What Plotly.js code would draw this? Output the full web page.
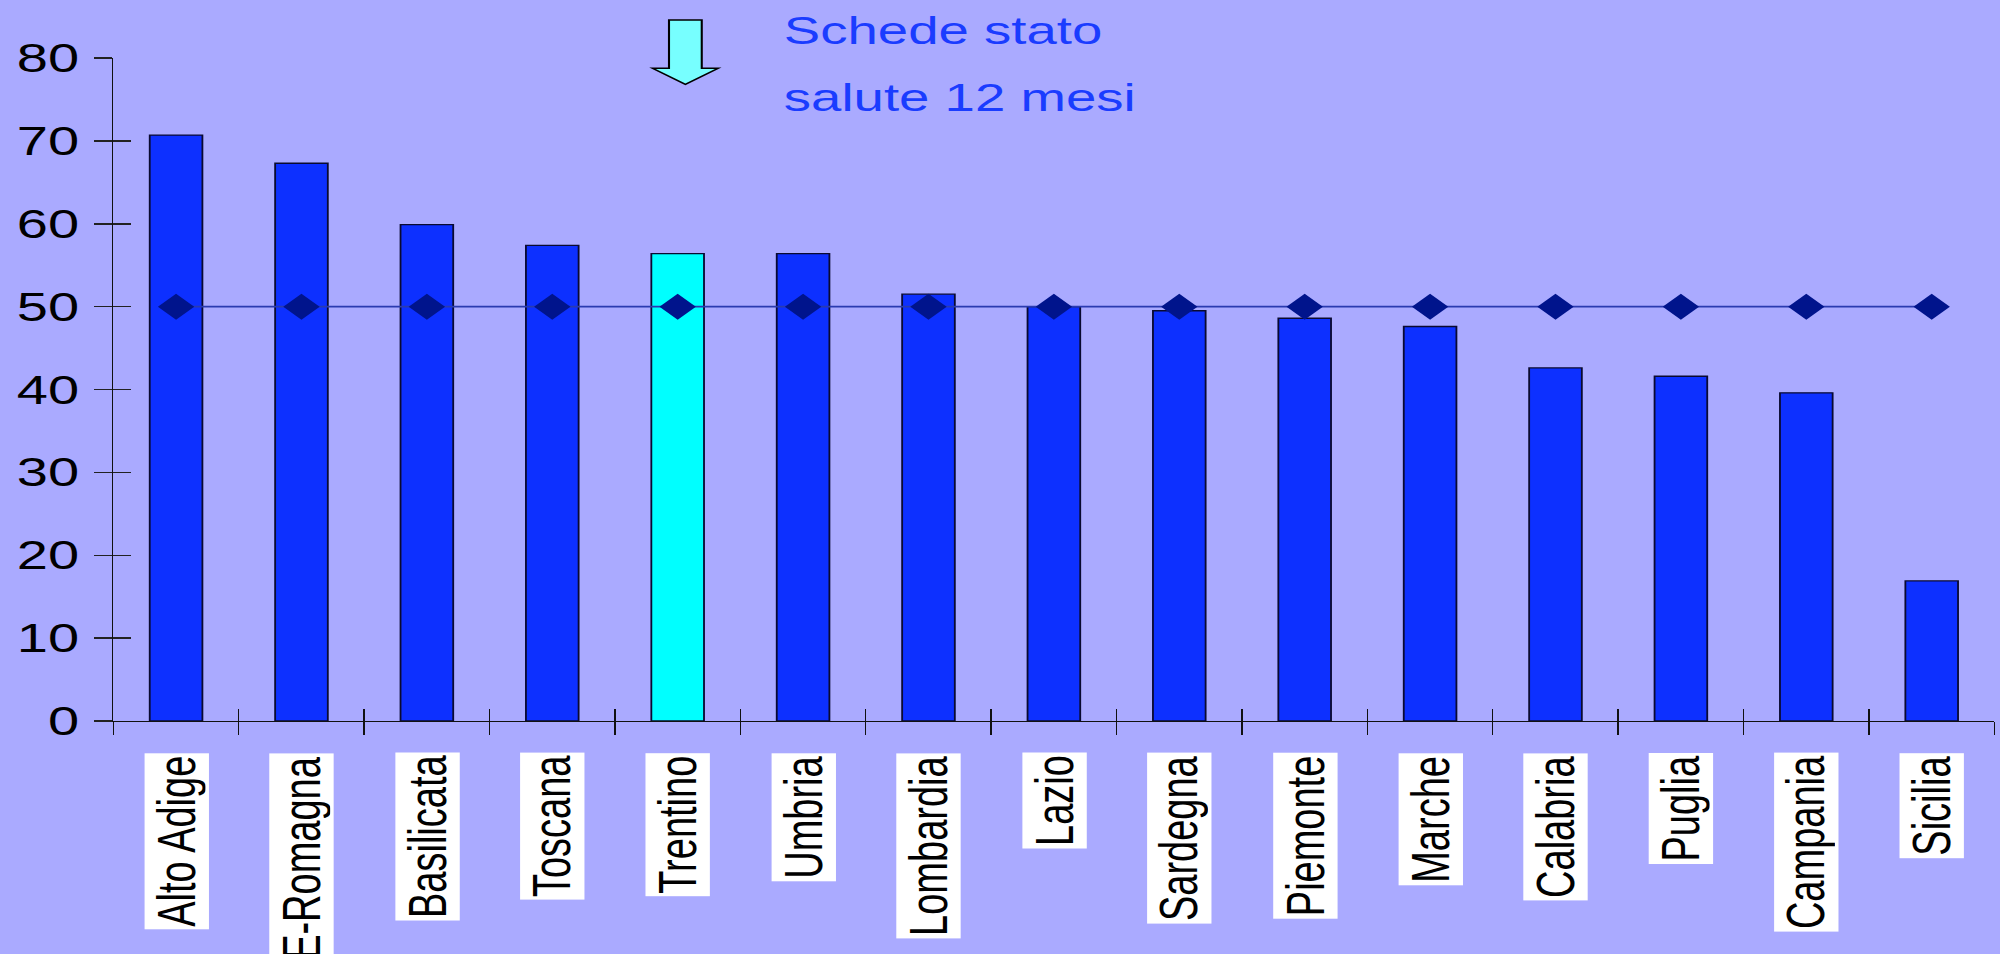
<!DOCTYPE html>
<html>
<head>
<meta charset="utf-8">
<script src="https://cdn.plot.ly/plotly-3.0.1.min.js"></script>
<style>
  html, body { margin: 0; padding: 0; background: #aaaaff; overflow: hidden; }
  /* the chart is laid out narrower and widened horizontally to fill the page */
  #chart { width: 1429px; height: 954px; transform-origin: 0 0; }
</style>
</head>
<body>
<div id="chart"></div>
<script>
// Regions, sorted by share of completed health-status forms (12 months)
const regions = ['Alto Adige', 'E-Romagna', 'Basilicata', 'Toscana', 'Trentino', 'Umbria',
                 'Lombardia', 'Lazio', 'Sardegna', 'Piemonte', 'Marche', 'Calabria',
                 'Puglia', 'Campania', 'Sicilia'];
const shares = [70.7, 67.3, 59.9, 57.4, 56.4, 56.4, 51.5, 50.0, 49.5, 48.6, 47.6, 42.6, 41.6, 39.6, 16.9];
// reference level drawn as a line with diamond markers
const reference = [50, 50, 50, 50, 50, 50, 50, 50, 50, 50, 50, 50, 50, 50, 50];
const yTicks = [0, 10, 20, 30, 40, 50, 60, 70, 80];
const highlighted = 'Trentino';
const titleLines = ['Schede stato', 'salute 12 mesi'];

const PAGE_W = 2000, LAYOUT_W = 1429;
const stretch = PAGE_W / LAYOUT_W;
document.getElementById('chart').style.transform = 'scaleX(' + stretch + ')';

const barColors = regions.map(r => r === highlighted ? '#00ffff' : '#0d30ff');

const bars = {
  type: 'bar', x: regions, y: shares,
  marker: { color: barColors, line: { color: '#0a0a30', width: 1.3 } },
  hoverinfo: 'skip'
};

const refLine = {
  type: 'scatter', mode: 'lines+markers', x: regions, y: reference,
  xaxis: 'x2', yaxis: 'y2',
  line: { color: '#2a3bb0', width: 1.6 },
  marker: { symbol: 'diamond', size: 20, color: '#00148c', line: { width: 0 } },
  hoverinfo: 'skip'
};

const axisFont = { family: 'Liberation Sans, Arial, sans-serif', size: 40, color: '#000000' };

// category labels in white boxes, rotated to read bottom-to-top
const labelNotes = regions.map(r => ({
  x: r, xref: 'x', y: 0, yref: 'paper', yshift: -31.5,
  xanchor: 'center', yanchor: 'top',
  text: r, textangle: -90, showarrow: false,
  bgcolor: '#ffffff', borderpad: 2, height: 41,
  font: { family: 'Liberation Sans, Arial, sans-serif', size: 38, color: '#000000' }
}));

const titleFont = { family: 'Liberation Sans, Arial, sans-serif', size: 39, color: '#1a3cff' };
const titleNotes = [
  { text: titleLines[0], xref: 'paper', x: 0.3549, xanchor: 'left', yref: 'paper', y: 1,
    yanchor: 'middle', yshift: 27.5, showarrow: false, font: titleFont },
  { text: titleLines[1], xref: 'paper', x: 0.3549, xanchor: 'left', yref: 'paper', y: 1,
    yanchor: 'middle', yshift: -39, showarrow: false, font: titleFont }
];

// block arrow pointing down at the highlighted region (pixel offsets, y up)
const cx = 5.5, shaftHalf = 11.7, headHalf = 23.4;
const arrowPath = 'M' + (cx - shaftHalf) + ',38 L' + (cx + shaftHalf) + ',38 L' + (cx + shaftHalf) + ',-10.3 L' +
  (cx + headHalf) + ',-10.3 L' + cx + ',-26.3 L' + (cx - headHalf) + ',-10.3 L' + (cx - shaftHalf) + ',-10.3 Z';

const layout = {
  width: LAYOUT_W, height: 954,
  paper_bgcolor: '#aaaaff', plot_bgcolor: '#aaaaff',
  margin: { l: 81.3, r: 4.3, t: 58, b: 232.5, pad: 0 },
  showlegend: false,
  bargap: 0.58,
  xaxis: {
    type: 'category', range: [-0.5, regions.length - 0.5], tickson: 'boundaries',
    ticks: 'outside', ticklen: 12.5, tickwidth: 1, tickcolor: '#111111',
    showline: true, linecolor: '#111111', linewidth: 1.2,
    showticklabels: false, showgrid: false, zeroline: false, fixedrange: true
  },
  xaxis2: {
    type: 'category', overlaying: 'x', range: [-0.5, regions.length - 0.5], tickson: 'boundaries',
    ticks: 'inside', ticklen: 12.5, tickwidth: 1, tickcolor: '#111111',
    showline: false, showticklabels: false, showgrid: false, zeroline: false, fixedrange: true
  },
  yaxis: {
    range: [0, 80], tickmode: 'array', tickvals: yTicks, ticktext: yTicks.map(String),
    ticks: 'outside', ticklen: 12.5, tickwidth: 1.5, tickcolor: '#222222',
    showline: true, linecolor: '#111111', linewidth: 1,
    tickfont: axisFont, ticklabelstandoff: 3,
    showgrid: false, zeroline: false, fixedrange: true
  },
  yaxis2: {
    overlaying: 'y', range: [0, 80], tickmode: 'array', tickvals: yTicks,
    ticks: 'inside', ticklen: 12.5, tickwidth: 1.5, tickcolor: '#222222',
    showline: false, showticklabels: false, showgrid: false, zeroline: false, fixedrange: true
  },
  annotations: labelNotes.concat(titleNotes),
  shapes: [{
    type: 'path', xref: 'x', yref: 'paper',
    xsizemode: 'pixel', ysizemode: 'pixel', xanchor: highlighted, yanchor: 1,
    path: arrowPath,
    fillcolor: '#77ffff', line: { color: '#000000', width: 1.5 }, layer: 'above'
  }]
};

Plotly.newPlot('chart', [bars, refLine], layout, { displayModeBar: false, staticPlot: true });
</script>
</body>
</html>
